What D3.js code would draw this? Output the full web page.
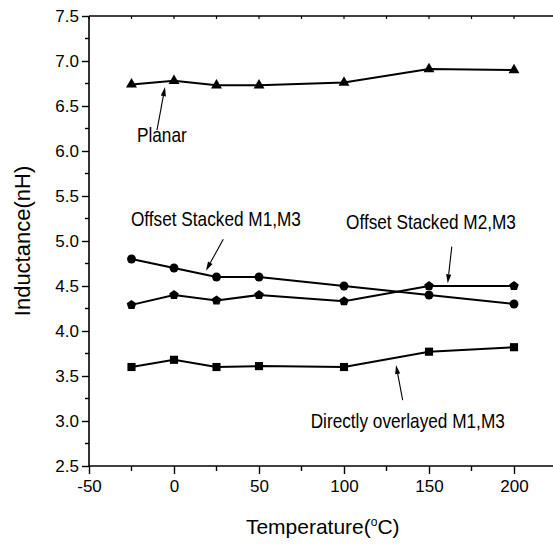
<!DOCTYPE html>
<html>
<head>
<meta charset="utf-8">
<script src="https://cdn.jsdelivr.net/npm/d3@7"></script>
<style>
  html, body { margin: 0; padding: 0; background: #fff; }
  svg { display: block; }
  text { font-family: "Liberation Sans", Arial, sans-serif; fill: #000; }
</style>
</head>
<body>
<svg id="chart" width="553" height="547"></svg>
<script>
// Measured temperatures (°C)
const temps = [-25, 0, 25, 50, 100, 150, 200];

// Inductance (nH) for each structure
const planar     = [6.74, 6.78, 6.73, 6.73, 6.76, 6.91, 6.90];
const offsetM1M3 = [4.80, 4.70, 4.60, 4.60, 4.50, 4.40, 4.30];
const offsetM2M3 = [4.29, 4.40, 4.34, 4.40, 4.33, 4.50, 4.50];
const directM1M3 = [3.60, 3.68, 3.60, 3.61, 3.60, 3.77, 3.82];

// Axis ticks
const xTickValues = [-50, 0, 50, 100, 150, 200];
const xTickLabels = ["-50", "0", "50", "100", "150", "200"];
const yTickValues = [2.5, 3.0, 3.5, 4.0, 4.5, 5.0, 5.5, 6.0, 6.5, 7.0, 7.5];
const yTickLabels = ["2.5", "3.0", "3.5", "4.0", "4.5", "5.0", "5.5", "6.0", "6.5", "7.0", "7.5"];

// Callout labels: text anchor and arrow (tail -> tip), in data units
const calloutText  = ["Planar", "Offset Stacked M1,M3", "Offset Stacked M2,M3", "Directly overlayed M1,M3"];
const calloutX     = [-21.8, -25.3, 101.2, 80.4];
const calloutY     = [6.10, 5.167, 5.133, 2.922];
const arrowTailX   = [-10.0, 29.0, 163.4, 134.5];
const arrowTailY   = [6.233, 5.019, 4.937, 3.233];
const arrowTipX    = [-5.3, 18.8, 161.0, 130.6];
const arrowTipY    = [6.71, 4.67, 4.53, 3.622];

const svg = d3.select("#chart");
const plotL = 89, plotT = 16, plotB = 466, plotR = 556.5;

const x = d3.scaleLinear().domain([-50, 225]).range([plotL, plotR]);
const y = d3.scaleLinear().domain([2.5, 7.5]).range([plotB, plotT]);

// ---- axes ----
const axisG = svg.append("g");

// bottom axis with major + minor ticks
const xMinor = d3.range(-50, 226, 25).filter(v => v % 50 !== 0);
const xAxis = d3.axisBottom(x).tickValues(xTickValues).tickSize(8).tickPadding(2)
  .tickFormat((d, i) => xTickLabels[i]);
const gx = axisG.append("g").attr("transform", `translate(0,${plotB})`).call(xAxis);
gx.select(".domain").remove();
gx.selectAll(".tick line").attr("stroke", "#000").attr("stroke-width", 1.4);
gx.selectAll(".tick text").style("font-size", "17px").attr("dy", "0.95em");
gx.selectAll(".minor").data(xMinor).join("line")
  .attr("x1", d => x(d)).attr("x2", d => x(d)).attr("y1", 0).attr("y2", 5)
  .attr("stroke", "#000").attr("stroke-width", 1.4);

// left axis with major + minor ticks
const yMinor = d3.range(2.75, 7.5, 0.5);
const yAxis = d3.axisLeft(y).tickValues(yTickValues).tickSize(7).tickPadding(3)
  .tickFormat((d, i) => yTickLabels[i]);
const gy = axisG.append("g").attr("transform", `translate(${plotL},0)`).call(yAxis);
gy.select(".domain").remove();
gy.selectAll(".tick line").attr("stroke", "#000").attr("stroke-width", 1.4);
gy.selectAll(".tick text").style("font-size", "17px");
gy.selectAll(".minor").data(yMinor).join("line")
  .attr("x1", -4).attr("x2", 0).attr("y1", d => y(d)).attr("y2", d => y(d))
  .attr("stroke", "#000").attr("stroke-width", 1.4);

// top axis: short inward ticks
const xTop = d3.range(-50, 226, 25);
axisG.append("g").selectAll("line").data(xTop).join("line")
  .attr("x1", d => x(d)).attr("x2", d => x(d)).attr("y1", plotT).attr("y2", plotT + 3)
  .attr("stroke", "#000").attr("stroke-width", 1.2);

// frame lines
axisG.append("line").attr("x1", plotL).attr("x2", plotR).attr("y1", plotB).attr("y2", plotB)
  .attr("stroke", "#000").attr("stroke-width", 1.6);
axisG.append("line").attr("x1", plotL).attr("x2", plotR).attr("y1", plotT).attr("y2", plotT)
  .attr("stroke", "#000").attr("stroke-width", 1.6);
axisG.append("line").attr("x1", plotL).attr("x2", plotL).attr("y1", plotT).attr("y2", plotB)
  .attr("stroke", "#000").attr("stroke-width", 1.6);

// axis titles
svg.append("text")
  .attr("transform", `translate(30,${(plotT + plotB) / 2}) rotate(-90)`)
  .attr("text-anchor", "middle")
  .style("font-size", "22px")
  .text("Inductance(nH)");

const xt = svg.append("text")
  .attr("x", (plotL + plotR) / 2).attr("y", 534)
  .attr("text-anchor", "middle")
  .style("font-size", "21px");
xt.append("tspan").text("Temperature(");
xt.append("tspan").attr("dy", -8).style("font-size", "12px").text("o");
xt.append("tspan").attr("dy", 8).text("C)");

// ---- series ----
const pentagon = {
  draw(ctx, size) {
    const r = Math.sqrt(size / 2.378);
    for (let i = 0; i < 5; i++) {
      const a = -Math.PI / 2 + i * 2 * Math.PI / 5;
      const px = r * Math.cos(a), py = r * Math.sin(a);
      if (i === 0) ctx.moveTo(px, py); else ctx.lineTo(px, py);
    }
    ctx.closePath();
  }
};

const series = [
  { values: planar,     symbol: d3.symbolTriangle, size: 52 },
  { values: offsetM1M3, symbol: d3.symbolCircle,   size: 62 },
  { values: offsetM2M3, symbol: pentagon,          size: 60 },
  { values: directM1M3, symbol: d3.symbolSquare,   size: 66 }
];

const line = d3.line().x((d, i) => x(temps[i])).y(d => y(d));
const plotG = svg.append("g");

series.forEach(s => {
  plotG.append("path")
    .attr("d", line(s.values))
    .attr("fill", "none").attr("stroke", "#000").attr("stroke-width", 2);
  plotG.selectAll(null).data(s.values).join("path")
    .attr("transform", (d, i) => `translate(${x(temps[i])},${y(d)})`)
    .attr("d", d3.symbol().type(s.symbol).size(s.size))
    .attr("fill", "#000");
});

// ---- callouts ----
const noteG = svg.append("g");
calloutText.forEach((t, i) => {
  noteG.append("g")
    .attr("transform", `translate(${x(calloutX[i])},${y(calloutY[i])}) scale(0.82,1)`)
    .append("text")
    .style("font-size", "21px")
    .text(t);

  const x0 = x(arrowTailX[i]), y0 = y(arrowTailY[i]);
  const x1 = x(arrowTipX[i]),  y1 = y(arrowTipY[i]);
  const ang = Math.atan2(y1 - y0, x1 - x0);
  const headLen = 9, headHalf = 2.6;
  const bx = x1 - headLen * Math.cos(ang), by = y1 - headLen * Math.sin(ang);
  noteG.append("line")
    .attr("x1", x0).attr("y1", y0).attr("x2", bx).attr("y2", by)
    .attr("stroke", "#000").attr("stroke-width", 1.1);
  const nx = -Math.sin(ang), ny = Math.cos(ang);
  noteG.append("path")
    .attr("d", `M${x1},${y1}L${bx + nx * headHalf},${by + ny * headHalf}L${bx - nx * headHalf},${by - ny * headHalf}Z`)
    .attr("fill", "#000");
});
</script>
</body>
</html>
